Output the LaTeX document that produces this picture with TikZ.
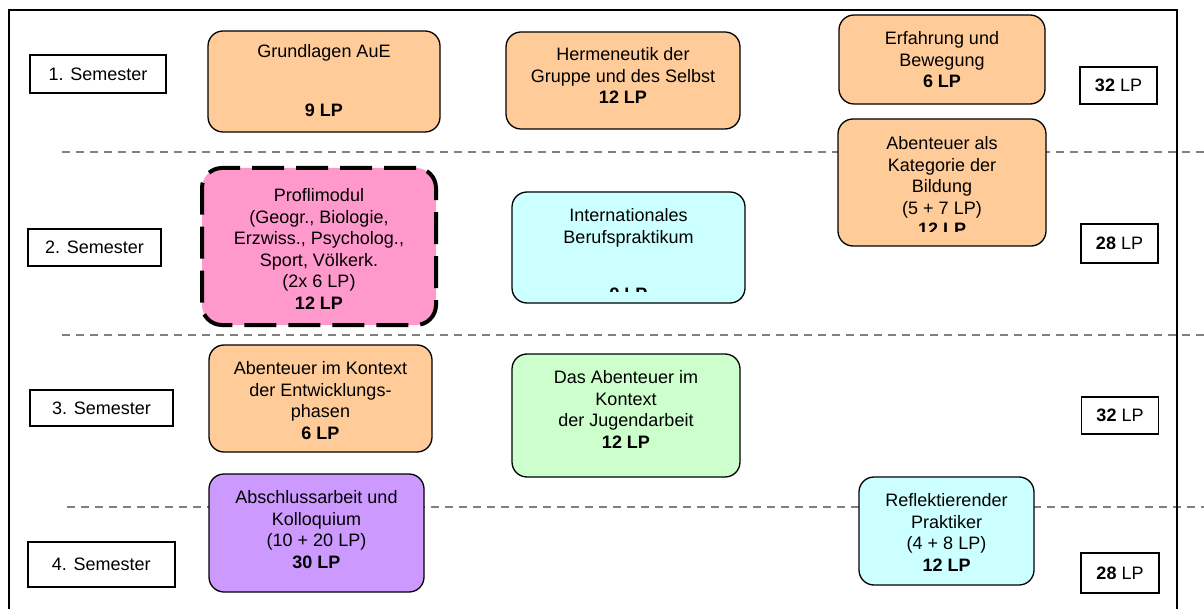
\documentclass[tikz,border=0pt]{standalone}
\usepackage{fontspec}
\setmainfont{Liberation Sans}
\definecolor{orangebox}{HTML}{FFCC99}
\definecolor{pinkbox}{HTML}{FF99CC}
\definecolor{cyanbox}{HTML}{CCFFFF}
\definecolor{greenbox}{HTML}{CCFFCC}
\definecolor{purplebox}{HTML}{CC99FF}
\definecolor{sepgray}{HTML}{808080}
\begin{document}
\begin{tikzpicture}[x=0.5pt,y=-0.5pt,
  every node/.style={font={\fontsize{9pt}{10.8pt}\selectfont}},
  labelbox/.style={draw=black,line width=0.8pt,fill=white,inner sep=0pt},
  modbox/.style={draw=black,line width=0.65pt,rounded corners=7.5pt,inner sep=0pt},
  modtext/.style={align=center,inner sep=0pt,anchor=north},
  onetext/.style={inner sep=0pt,anchor=base},
  sepline/.style={draw=sepgray,line width=0.75pt,dash pattern=on 4pt off 3pt},
  frameline/.style={draw=black,line width=1pt}]
\useasboundingbox (0,0) rectangle (1204,609);
% semester separators
\coordinate (d1a) at (62,152);  \coordinate (d1b) at (1204,152);
\coordinate (d2a) at (62,335);  \coordinate (d2b) at (1204,335);
\coordinate (d3a) at (67,507);  \coordinate (d3b) at (1204,507);
\draw[sepline] (d1a) -- (d1b);
\draw[sepline] (d2a) -- (d2b);
\draw[sepline] (d3a) -- (d3b);
% frame
\coordinate (fbl) at (8.5,609); \coordinate (ftl) at (8.5,10);
\coordinate (ftr) at (1176.5,10); \coordinate (fbr) at (1176.5,609);
\draw[frameline] (fbl) -- (ftl) -- (ftr) -- (fbr);
% semester labels
\node[labelbox,minimum width=68pt,minimum height=19pt] (s1) at (98,74) {1. Semester};
\node[labelbox,minimum width=66.5pt,minimum height=18.5pt] (s2) at (94.5,247.5) {2. Semester};
\node[labelbox,minimum width=71.5pt,minimum height=18pt] (s3) at (101.5,408) {3. Semester};
\node[labelbox,minimum width=73.5pt,minimum height=22.5pt] (s4) at (101.3,564.5) {4. Semester};
% LP totals
\node[labelbox,minimum width=38.5pt,minimum height=18.5pt] (l1) at (1118.5,85.5) {\textbf{32} LP};
\node[labelbox,minimum width=38.5pt,minimum height=19.5pt] (l2) at (1119.5,243.5) {\textbf{28} LP};
\node[labelbox,minimum width=38.5pt,minimum height=18.5pt] (l3) at (1120,415.5) {\textbf{32} LP};
\node[labelbox,minimum width=39pt,minimum height=20pt] (l4) at (1120,573) {\textbf{28} LP};
% modules, semester 1
\node[modbox,fill=orangebox,minimum width=116pt,minimum height=50.5pt] (ga) at (324,81.5) {};
\node[onetext] (ga1) at (324,58) {Grundlagen AuE};
\node[onetext] (ga2) at (324,117) {\textbf{9 LP}};
\node[modbox,fill=orangebox,minimum width=117pt,minimum height=48.5pt] (he) at (623,80.5) {};
\node[modtext] (het) at (623,47) {Hermeneutik der\\Gruppe und des Selbst\\\textbf{12 LP}};
\node[modbox,fill=orangebox,minimum width=103pt,minimum height=44.5pt] (er) at (942,59.5) {};
\node[modtext] (ert) at (942,31) {Erfahrung und\\Bewegung\\\textbf{6 LP}};
% semester 2
\node[modbox,fill=orangebox,minimum width=104pt,minimum height=63.5pt] (ak) at (942,182.5) {};
\begin{scope}
\clip (838,119) rectangle (1046,232);
\node[modtext] (akt) at (942,136) {Abenteuer als\\Kategorie der\\Bildung\\(5 + 7 LP)\\\textbf{12 LP}};
\end{scope}
\node[modbox,fill=pinkbox,line width=2pt,dash pattern=on 16pt off 6pt,rounded corners=10pt,minimum width=117pt,minimum height=78.5pt] (pr) at (319,246.5) {};
\node[modtext] (prt) at (319,188) {Proflimodul\\(Geogr., Biologie,\\Erzwiss., Psycholog.,\\Sport, Völkerk.\\(2x 6 LP)\\\textbf{12 LP}};
\node[modbox,fill=cyanbox,minimum width=116.5pt,minimum height=55.5pt] (in) at (628.5,247.5) {};
\node[modtext] (int) at (628.5,208.5) {Internationales\\Berufspraktikum};
\begin{scope}
\clip (512,192) rectangle (745,291);
\node[onetext] (inlp) at (628.5,300) {\textbf{9 LP}};
\end{scope}
% semester 3
\node[modbox,fill=orangebox,minimum width=111.5pt,minimum height=53.5pt] (en) at (320.5,398.5) {};
\node[modtext] (ent) at (320.5,361) {Abenteuer im Kontext\\der Entwicklungs-\\phasen\\\textbf{6 LP}};
\node[modbox,fill=greenbox,minimum width=114pt,minimum height=61.5pt] (ju) at (626,415.5) {};
\node[modtext] (jut) at (626,370) {Das Abenteuer im\\Kontext\\der Jugendarbeit\\\textbf{12 LP}};
% semester 4
\node[modbox,fill=purplebox,minimum width=107.5pt,minimum height=59pt] (ab) at (316.5,533) {};
\node[modtext] (abt) at (316.5,490) {Abschlussarbeit und\\Kolloquium\\(10 + 20 LP)\\\textbf{30 LP}};
\node[modbox,fill=cyanbox,minimum width=87.5pt,minimum height=54pt] (re) at (946.5,531) {};
\node[modtext] (ret) at (946.5,493) {Reflektierender\\Praktiker\\(4 + 8 LP)\\\textbf{12 LP}};
\end{tikzpicture}
\end{document}
